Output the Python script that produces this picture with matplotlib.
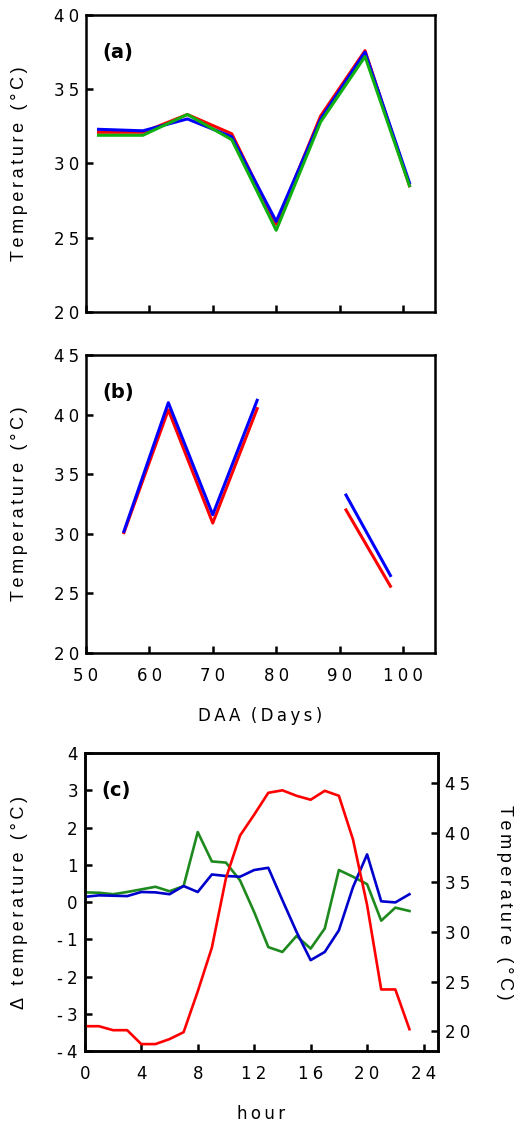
import numpy as np
import matplotlib
matplotlib.use('Agg')
import matplotlib.pyplot as plt
from matplotlib.ticker import FuncFormatter, MultipleLocator

plt.rcParams['font.family'] = ['DejaVu Sans']
plt.rcParams['axes.unicode_minus'] = False

# panel (a): temperature vs DAA
daa_a = [52, 59, 66, 73, 80, 87, 94, 101]
a_red = [32.1, 32.1, 33.3, 32.0, 25.9, 33.2, 37.6, 28.5]
a_blue = [32.3, 32.2, 33.0, 31.8, 26.1, 33.0, 37.5, 28.7]
a_green = [31.9, 31.9, 33.3, 31.6, 25.5, 32.8, 37.2, 28.5]

# panel (b): gap at 84 (no data)
daa_b = [56, 63, 70, 77, 84, 91, 98]
b_blue = [30.2, 41.0, 31.6, 41.2, np.nan, 33.25, 26.5]
b_red = [30.1, 40.4, 30.9, 40.5, np.nan, 32.0, 25.6]

# panel (c): hourly
hours = list(range(24))
c_blue = [0.14, 0.18, 0.17, 0.16, 0.27, 0.26, 0.21, 0.43, 0.27, 0.74, 0.70, 0.68,
          0.86, 0.92, 0.05, -0.80, -1.56, -1.34, -0.76, 0.40, 1.28, 0.02, -0.01, 0.21]
c_green = [0.26, 0.25, 0.21, 0.27, 0.34, 0.41, 0.29, 0.43, 1.88, 1.09, 1.06, 0.58,
           -0.27, -1.21, -1.34, -0.91, -1.25, -0.71, 0.86, 0.68, 0.48, -0.50, -0.15, -0.24]
c_temp = [20.5, 20.5, 20.1, 20.1, 18.7, 18.7, 19.2, 19.9, 24.0, 28.4, 35.4, 39.7,
          41.8, 44.0, 44.25, 43.7, 43.3, 44.2, 43.7, 39.3, 32.7, 24.2, 24.2, 20.2]


def spaced(s):
    return ' '.join(s)


def thin(s):
    # letter spacing with thin spaces
    return '\u2009'.join(s)


tick_fmt = FuncFormatter(lambda v, p: '\u2005'.join('%g' % v))
VFONT = dict(family=['Liberation Sans', 'DejaVu Sans'], size=13)
temp_label = thin('Temperature (°C)')

LW = 2.2
FS = 12


def style(ax):
    for sp in ax.spines.values():
        sp.set_linewidth(1.8)
    ax.tick_params(direction='in', length=5, width=1.8, labelsize=12, pad=5)


fig = plt.figure(figsize=(5.14, 11.27), dpi=100)

# (a)
ax1 = fig.add_axes([0.167, 0.7232, 0.679, 0.2635])
ax1.plot(daa_a, a_red, color='#ff0000', lw=LW)
ax1.plot(daa_a, a_blue, color='#0000ff', lw=LW)
ax1.plot(daa_a, a_green, color='#10b010', lw=LW)
ax1.set_xlim(50, 105)
ax1.set_ylim(20, 40)
ax1.xaxis.set_major_locator(MultipleLocator(10))
ax1.yaxis.set_major_locator(MultipleLocator(5))
ax1.yaxis.set_major_formatter(tick_fmt)
ax1.tick_params(labelbottom=False)
style(ax1)
ax1.set_ylabel(temp_label, va='center', **VFONT)
ax1.yaxis.set_label_coords(-0.19, 0.5)
ax1.text(0.046, 0.875, '(a)', transform=ax1.transAxes, fontsize=14, fontweight='bold', va='center')

# (b)
ax2 = fig.add_axes([0.167, 0.4206, 0.679, 0.2644])
ax2.plot(daa_b, b_red, color='#ff0000', lw=LW)
ax2.plot(daa_b, b_blue, color='#0000ff', lw=LW)
ax2.set_xlim(50, 105)
ax2.set_ylim(20, 45)
ax2.xaxis.set_major_locator(MultipleLocator(10))
ax2.yaxis.set_major_locator(MultipleLocator(5))
ax2.yaxis.set_major_formatter(tick_fmt)
ax2.xaxis.set_major_formatter(tick_fmt)
style(ax2)
ax2.tick_params(axis='x', pad=10)
ax2.set_ylabel(temp_label, va='center', **VFONT)
ax2.yaxis.set_label_coords(-0.19, 0.5)
ax2.set_xlabel(thin('DAA') + '  ' + thin('(Days)'), fontsize=FS, labelpad=16)
ax2.text(0.046, 0.875, '(b)', transform=ax2.transAxes, fontsize=14, fontweight='bold', va='center')

# (c)
ax3 = fig.add_axes([0.165, 0.0674, 0.6865, 0.2644])
ax3.plot(hours, c_green, color='#1e8a1e', lw=1.9)
ax3.plot(hours, c_blue, color='#0000cc', lw=1.9)
ax3.set_xlim(0, 25)
ax3.set_ylim(-4, 4)
ax3.xaxis.set_major_locator(MultipleLocator(4))
ax3.yaxis.set_major_locator(MultipleLocator(1))
ax3.yaxis.set_major_formatter(tick_fmt)
ax3.xaxis.set_major_formatter(tick_fmt)
style(ax3)
ax3.tick_params(axis='x', pad=10)
ax3.set_ylabel(thin('Δ temperature (°C)'), va='center', **VFONT)
ax3.yaxis.set_label_coords(-0.185, 0.5)
ax3.set_xlabel(thin('hour'), fontsize=FS, labelpad=16)
ax3.text(0.046, 0.875, '(c)', transform=ax3.transAxes, fontsize=14, fontweight='bold', va='center')

ax4 = ax3.twinx()
ax4.plot(hours, c_temp, color='#ff0000', lw=1.9)
ax4.set_ylim(18, 48)
ax4.yaxis.set_major_locator(MultipleLocator(5))
ax4.yaxis.set_major_formatter(tick_fmt)
style(ax4)
ax4.set_ylabel(temp_label, rotation=270, va='center', ha='center', **VFONT)
ax4.yaxis.set_label_coords(1.19, 0.5)

fig.savefig('out.png', dpi=100)
